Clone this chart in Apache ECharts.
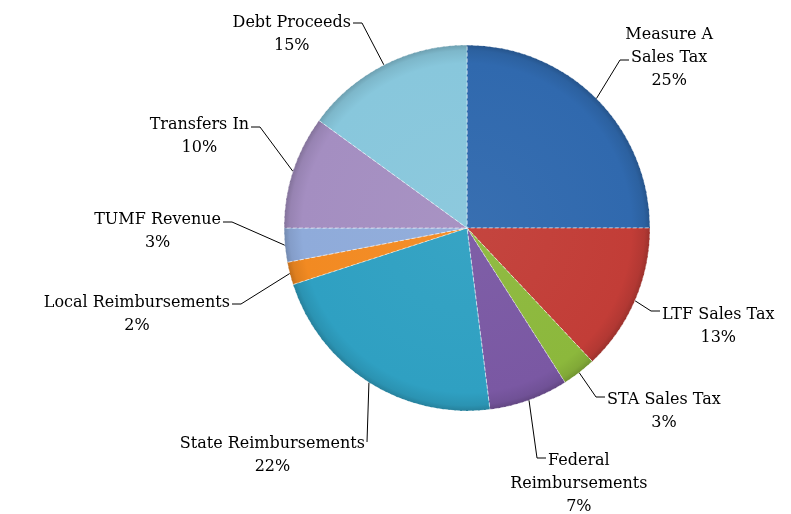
<!DOCTYPE html>
<html>
<head>
<meta charset="utf-8">
<script src="https://cdn.jsdelivr.net/npm/echarts@6/dist/echarts.min.js"></script>
<style>
  html, body { margin: 0; padding: 0; background: #fff; }
  #chart { width: 791px; height: 514px; }
</style>
</head>
<body>
<div id="chart"></div>
<script>
// Revenue sources, share of total (percent), clockwise from 12 o'clock
const categories = [
  'Measure A\nSales Tax',
  'LTF Sales Tax',
  'STA Sales Tax',
  'Federal\nReimbursements',
  'State Reimbursements',
  'Local Reimbursements',
  'TUMF Revenue',
  'Transfers In',
  'Debt Proceeds'
];
const shares = [25, 13, 3, 7, 22, 2, 3, 10, 15];

const sliceColors = [
  '#3069AE', '#C23D37', '#8CB83C', '#7A58A3', '#2FA0C2',
  '#F28A22', '#8FABDA', '#A48EC1', '#88C7DC'
];

// Leader line end points [x, y], which side of that point the text sits on (+1 right, -1 left),
// length of the short horizontal run before the text, and which text line it points at
const lineEnds = [
  [629, 60], [660, 311], [605, 397], [546, 458], [367, 442],
  [232, 304], [223, 222], [251, 127], [353, 23]
];
const textSide = [1, 1, 1, 1, -1, -1, -1, -1, -1];
const runLength = [9, 9, 9, 9, 0, 9, 9, 9, 9];
const attachLine = [1, 0, 0, 0, 0, 0, 0, 0, 0];
// top edge of each text block
const labelTops = [23, 303, 388, 449, 432, 291, 208, 113, 11];

const pieCenter = [467, 228];
const pieRadius = 183;

const FONT_FAMILY = '"DejaVu Serif", "Liberation Serif", serif';
const FONT_SIZE = 16;
const LINE_HEIGHT = 23;
const TEXT_GAP = 2;

const measureCtx = document.createElement('canvas').getContext('2d');
measureCtx.font = FONT_SIZE + 'px ' + FONT_FAMILY;
function textWidth(s) { return measureCtx.measureText(s).width; }

function shade(hex, f) {
  const n = parseInt(hex.slice(1), 16);
  let r = (n >> 16) & 255, g = (n >> 8) & 255, b = n & 255;
  const m = c => Math.max(0, Math.min(255, Math.round(f >= 0 ? c + (255 - c) * f : c * (1 + f))));
  return 'rgb(' + m(r) + ',' + m(g) + ',' + m(b) + ')';
}

const chart = echarts.init(document.getElementById('chart'), null, { renderer: 'canvas' });

const data = categories.map((name, i) => ({
  name: name,
  value: shares[i],
  itemStyle: {
    color: {
      type: 'radial',
      x: pieCenter[0], y: pieCenter[1], r: pieRadius,
      global: true,
      colorStops: [
        { offset: 0, color: shade(sliceColors[i], 0.04) },
        { offset: 0.9, color: sliceColors[i] },
        { offset: 0.97, color: shade(sliceColors[i], -0.08) },
        { offset: 1, color: shade(sliceColors[i], -0.2) }
      ]
    }
  }
}));

chart.setOption({
  animation: false,
  backgroundColor: '#ffffff',
  series: [{
    type: 'pie',
    center: pieCenter,
    radius: pieRadius,
    startAngle: 90,
    clockwise: true,
    data: data,
    itemStyle: {
      borderColor: 'rgba(255,255,255,0.5)',
      borderWidth: 1,
      borderType: 'dashed'
    },
    emphasis: { disabled: true },
    label: {
      show: true,
      position: 'outside',
      formatter: p => p.name + '\n' + Math.round(p.percent) + '%',
      fontFamily: FONT_FAMILY,
      fontSize: FONT_SIZE,
      lineHeight: LINE_HEIGHT,
      color: '#000',
      align: 'center'
    },
    labelLine: {
      show: true,
      length: 20,
      length2: 10,
      smooth: false,
      lineStyle: { color: '#000', width: 1 }
    },
    labelLayout: function (params) {
      const i = params.dataIndex;
      const end = lineEnds[i];
      const side = textSide[i];
      const lineText = categories[i].split('\n')[attachLine[i]];
      const w = textWidth(lineText);
      const cx = end[0] + side * (TEXT_GAP + w / 2);
      const start = params.labelLinePoints ? params.labelLinePoints[0] : end;
      const elbow = [end[0] - side * runLength[i], end[1]];
      return {
        x: cx,
        y: labelTops[i],
        align: 'center',
        verticalAlign: 'top',
        labelLinePoints: [start, elbow, [end[0], end[1]]]
      };
    }
  }]
});
</script>
</body>
</html>
